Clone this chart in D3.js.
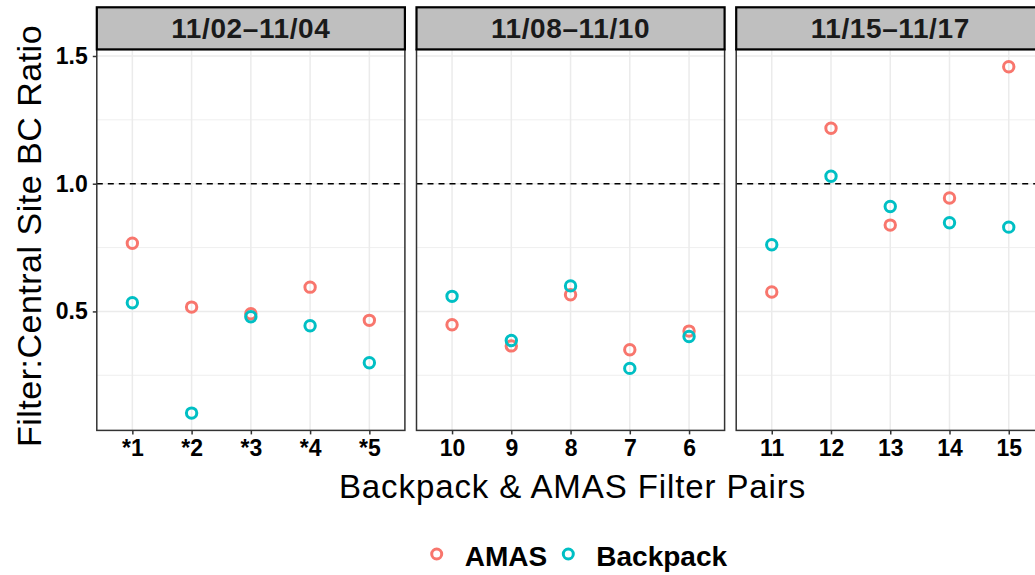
<!DOCTYPE html>
<html><head><meta charset="utf-8">
<script src="https://cdn.jsdelivr.net/npm/d3@7"></script>
<style>
body{margin:0;background:#fff}
text{font-family:"Liberation Sans",Arial,Helvetica,sans-serif}
</style>
</head><body>
<svg id="chart" width="1035" height="575"></svg>
<script>
// Filter : central site BC ratio, faceted by sampling period
const periods = ["11/02–11/04", "11/08–11/10", "11/15–11/17"];
const pairLabels = [
  ["*1", "*2", "*3", "*4", "*5"],
  ["10", "9", "8", "7", "6"],
  ["11", "12", "13", "14", "15"]
];
const amasValues = [
  [0.767, 0.517, 0.491, 0.595, 0.465],
  [0.448, 0.365, 0.565, 0.350, 0.423],
  [0.576, 1.217, 0.838, 0.944, 1.458]
];
const backpackValues = [
  [0.534, 0.102, 0.479, 0.444, 0.299],
  [0.559, 0.386, 0.600, 0.277, 0.402],
  [0.761, 1.029, 0.911, 0.847, 0.830]
];
const yTicks = [0.5, 1.0, 1.5];
const yMinorTicks = [0.25, 0.75, 1.25];
const seriesNames = ["AMAS", "Backpack"];
const seriesColors = ["#F8766D", "#00BFC4"];
const referenceRatio = 1.0;

const svg = d3.select("#chart");

const panelLeft0 = 96.8, panelWidth = 308.1, panelGap = 11.6;
const panelTop = 49.4, panelBottom = 430.4, stripTop = 7.3;

// y extent with 5% padding on each side of the data range
const allVals = amasValues.flat().concat(backpackValues.flat());
const yLo = d3.min(allVals), yHi = d3.max(allVals), pad = (yHi - yLo) * 0.05;
const y = d3.scaleLinear().domain([yLo - pad, yHi + pad]).range([panelBottom, panelTop]);

const series = [amasValues, backpackValues];

periods.forEach((period, p) => {
  const left = panelLeft0 + p * (panelWidth + panelGap);
  const x = d3.scalePoint().domain(pairLabels[p]).range([left, left + panelWidth]).padding(0.6);
  const g = svg.append("g");

  // grid
  g.selectAll(".ymin").data(yMinorTicks).join("line")
    .attr("x1", left).attr("x2", left + panelWidth)
    .attr("y1", d => y(d)).attr("y2", d => y(d))
    .attr("stroke", "#EBEBEB").attr("stroke-width", 0.8);
  g.selectAll(".ymaj").data(yTicks).join("line")
    .attr("x1", left).attr("x2", left + panelWidth)
    .attr("y1", d => y(d)).attr("y2", d => y(d))
    .attr("stroke", "#EBEBEB").attr("stroke-width", 1.5);
  g.selectAll(".xmaj").data(pairLabels[p]).join("line")
    .attr("x1", d => x(d)).attr("x2", d => x(d))
    .attr("y1", panelTop).attr("y2", panelBottom)
    .attr("stroke", "#EBEBEB").attr("stroke-width", 1.5);

  // reference line at ratio 1
  g.append("line")
    .attr("x1", left).attr("x2", left + panelWidth)
    .attr("y1", y(referenceRatio)).attr("y2", y(referenceRatio))
    .attr("stroke", "#000").attr("stroke-width", 1.6)
    .attr("stroke-dasharray", "6,5");

  // points
  series.forEach((vals, s) => {
    g.selectAll(null).data(vals[p]).join("circle")
      .attr("cx", (d, i) => x(pairLabels[p][i]))
      .attr("cy", d => y(d))
      .attr("r", 5.2)
      .attr("fill", "none")
      .attr("stroke", seriesColors[s])
      .attr("stroke-width", 3);
  });

  // panel border
  g.append("rect")
    .attr("x", left).attr("y", panelTop)
    .attr("width", panelWidth).attr("height", panelBottom - panelTop)
    .attr("fill", "none").attr("stroke", "#333").attr("stroke-width", 1.5);

  // strip
  g.append("rect")
    .attr("x", left).attr("y", stripTop)
    .attr("width", panelWidth).attr("height", panelTop - stripTop)
    .attr("fill", "#BFBFBF").attr("stroke", "#000").attr("stroke-width", 2.2);
  g.append("text")
    .attr("x", left + panelWidth / 2).attr("y", 38.3)
    .attr("text-anchor", "middle")
    .attr("font-size", 28).attr("font-weight", "bold").attr("fill", "#1A1A1A")
    .attr("letter-spacing", 0.6)
    .text(period);

  // x axis
  const xAxis = d3.axisBottom(x).tickSize(4).tickPadding(5);
  const xa = svg.append("g").attr("transform", `translate(0,${panelBottom})`).call(xAxis);
  xa.select(".domain").remove();
  xa.selectAll(".tick line").attr("stroke", "#333").attr("stroke-width", 1.5);
  xa.selectAll(".tick text").attr("font-size", 23).attr("font-weight", "bold")
    .attr("fill", "#000").attr("font-family", "Liberation Sans, Arial, sans-serif");
});

// y axis
const yAxis = d3.axisLeft(y).tickValues(yTicks).tickFormat(d3.format(".1f")).tickSize(4).tickPadding(5);
const ya = svg.append("g").attr("transform", `translate(${panelLeft0},0)`).call(yAxis);
ya.select(".domain").remove();
ya.selectAll(".tick line").attr("stroke", "#333").attr("stroke-width", 1.5);
ya.selectAll(".tick text").attr("font-size", 23).attr("font-weight", "bold")
  .attr("fill", "#000").attr("font-family", "Liberation Sans, Arial, sans-serif");

// axis titles
const plotCenterX = panelLeft0 + (3 * panelWidth + 2 * panelGap) / 2;
svg.append("text")
  .attr("x", plotCenterX + 2).attr("y", 498)
  .attr("text-anchor", "middle").attr("font-size", 33).attr("fill", "#000")
  .attr("letter-spacing", 0.9)
  .text("Backpack & AMAS Filter Pairs");
svg.append("text")
  .attr("transform", `translate(41,236) rotate(-90)`)
  .attr("text-anchor", "middle").attr("font-size", 34).attr("fill", "#000")
  .attr("letter-spacing", 0.5)
  .text("Filter:Central Site BC Ratio");

// legend
const legend = svg.append("g");
const legendX = [436.7, 568.3];
seriesNames.forEach((name, i) => {
  legend.append("circle")
    .attr("cx", legendX[i]).attr("cy", 554)
    .attr("r", 5).attr("fill", "none")
    .attr("stroke", seriesColors[i]).attr("stroke-width", 3);
  legend.append("text")
    .attr("x", legendX[i] + 28).attr("y", 566)
    .attr("font-size", 28).attr("font-weight", "bold").attr("fill", "#000")
    .text(name);
});
</script>
</body></html>
